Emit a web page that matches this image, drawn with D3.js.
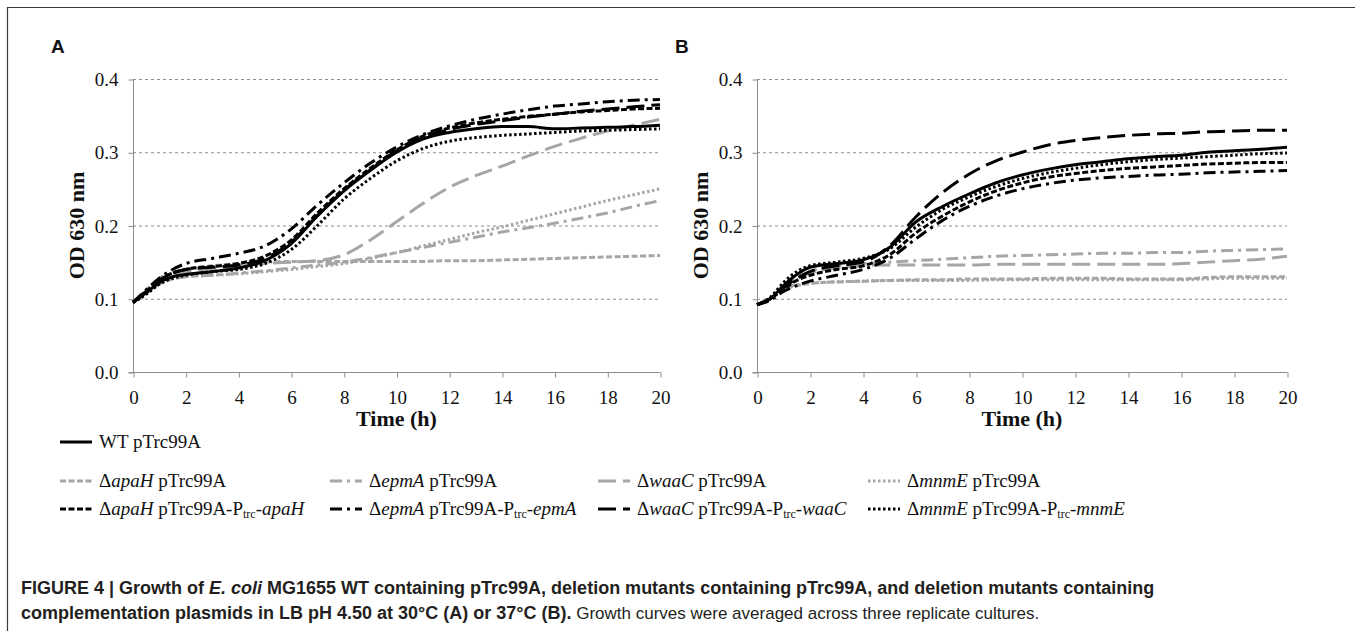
<!DOCTYPE html>
<html>
<head>
<meta charset="utf-8">
<script src="https://cdn.jsdelivr.net/npm/d3@7"></script>
<style>
  html, body { margin: 0; padding: 0; background: #fff; }
  svg { display: block; }
</style>
</head>
<body>
<svg id="fig" width="1355" height="631"></svg>
<script>
// Sampling times (h)
const hours = [0, 0.5, 1, 1.5, 2, 3, 4, 5, 6, 7, 8, 9, 10, 11, 12, 13, 14, 15, 16, 17, 18, 19, 20];

// Panel A: 30 °C
const a_WT        = [0.095,0.108,0.122,0.130,0.133,0.137,0.142,0.152,0.175,0.213,0.247,0.275,0.300,0.318,0.327,0.332,0.335,0.335,0.332,0.333,0.334,0.335,0.337];
const a_apaH      = [0.095,0.112,0.128,0.135,0.140,0.145,0.148,0.150,0.151,0.151,0.151,0.151,0.151,0.151,0.152,0.152,0.153,0.154,0.155,0.156,0.157,0.158,0.159];
const a_epmA      = [0.095,0.108,0.120,0.127,0.130,0.132,0.135,0.138,0.142,0.146,0.150,0.156,0.163,0.170,0.177,0.184,0.191,0.197,0.203,0.210,0.217,0.226,0.234];
const a_waaC      = [0.095,0.110,0.125,0.133,0.137,0.141,0.145,0.148,0.150,0.152,0.160,0.180,0.205,0.230,0.252,0.268,0.281,0.295,0.308,0.319,0.329,0.337,0.345];
const a_mnmE      = [0.095,0.108,0.120,0.127,0.130,0.132,0.134,0.137,0.140,0.144,0.148,0.155,0.163,0.172,0.181,0.190,0.198,0.207,0.216,0.225,0.234,0.242,0.250];
const a_apaH_comp = [0.095,0.110,0.125,0.135,0.140,0.144,0.148,0.158,0.180,0.217,0.250,0.278,0.303,0.322,0.333,0.340,0.345,0.349,0.352,0.355,0.357,0.359,0.360];
const a_epmA_comp = [0.095,0.112,0.128,0.140,0.148,0.155,0.162,0.172,0.195,0.228,0.258,0.285,0.307,0.324,0.336,0.345,0.352,0.358,0.363,0.366,0.369,0.371,0.372];
const a_waaC_comp = [0.095,0.110,0.125,0.135,0.140,0.143,0.146,0.155,0.177,0.214,0.248,0.276,0.302,0.320,0.331,0.338,0.343,0.348,0.352,0.356,0.359,0.362,0.365];
const a_mnmE_comp = [0.095,0.106,0.120,0.128,0.132,0.137,0.140,0.148,0.167,0.200,0.236,0.264,0.288,0.305,0.315,0.320,0.323,0.325,0.327,0.329,0.330,0.331,0.332];

// Panel B: 37 °C
const b_WT        = [0.092,0.100,0.118,0.133,0.143,0.148,0.153,0.170,0.205,0.226,0.243,0.258,0.269,0.277,0.283,0.287,0.291,0.294,0.296,0.300,0.302,0.304,0.307];
const b_apaH      = [0.092,0.100,0.112,0.118,0.121,0.123,0.124,0.125,0.126,0.126,0.127,0.127,0.127,0.128,0.128,0.128,0.127,0.127,0.127,0.129,0.130,0.130,0.130];
const b_epmA      = [0.092,0.100,0.115,0.128,0.137,0.145,0.148,0.150,0.152,0.154,0.156,0.158,0.159,0.160,0.161,0.162,0.162,0.163,0.163,0.165,0.166,0.167,0.168];
const b_waaC      = [0.092,0.100,0.115,0.127,0.135,0.142,0.145,0.146,0.146,0.146,0.146,0.147,0.147,0.147,0.147,0.147,0.147,0.147,0.148,0.150,0.152,0.154,0.158];
const b_mnmE      = [0.092,0.100,0.114,0.119,0.121,0.123,0.124,0.125,0.125,0.125,0.125,0.126,0.126,0.126,0.126,0.126,0.126,0.126,0.126,0.127,0.128,0.128,0.128];
const b_apaH_comp = [0.092,0.100,0.113,0.125,0.132,0.140,0.145,0.160,0.190,0.213,0.232,0.247,0.258,0.266,0.271,0.275,0.278,0.280,0.282,0.284,0.285,0.286,0.286];
const b_epmA_comp = [0.092,0.098,0.110,0.118,0.124,0.132,0.140,0.155,0.182,0.207,0.226,0.240,0.250,0.257,0.262,0.265,0.267,0.269,0.270,0.272,0.273,0.274,0.275];
const b_waaC_comp = [0.092,0.100,0.115,0.128,0.137,0.145,0.150,0.172,0.212,0.245,0.270,0.288,0.300,0.310,0.316,0.320,0.323,0.325,0.326,0.328,0.329,0.330,0.330];
const b_mnmE_comp = [0.092,0.102,0.122,0.137,0.145,0.150,0.155,0.168,0.198,0.222,0.239,0.253,0.264,0.272,0.278,0.283,0.287,0.290,0.292,0.294,0.296,0.298,0.299];

// Axis ticks
const xTicks = [0, 2, 4, 6, 8, 10, 12, 14, 16, 18, 20];
const yTicks = [0.0, 0.1, 0.2, 0.3, 0.4];

// Strains: key, gene, complemented?, tone, dash style
const strainKeys   = ["WT", "apaH", "epmA", "waaC", "mnmE", "apaH_comp", "epmA_comp", "waaC_comp", "mnmE_comp"];
const strainGenes  = [null, "apaH", "epmA", "waaC", "mnmE", "apaH", "epmA", "waaC", "mnmE"];
const strainComp   = [false, false, false, false, false, true, true, true, true];
const strainTone   = ["black", "grey", "grey", "grey", "grey", "black", "black", "black", "black"];
const strainStyle  = ["solid", "sysdash", "dashdot", "longdash", "dot", "sysdash", "dashdot", "longdash", "dot"];

const panelA = [a_WT, a_apaH, a_epmA, a_waaC, a_mnmE, a_apaH_comp, a_epmA_comp, a_waaC_comp, a_mnmE_comp];
const panelB = [b_WT, b_apaH, b_epmA, b_waaC, b_mnmE, b_apaH_comp, b_epmA_comp, b_waaC_comp, b_mnmE_comp];

const toneColor = { black: "#000000", grey: "#a6a6a6" };
const dashArray = { solid: null, sysdash: "6,2.5", dashdot: "12,5,3,5", longdash: "18,7", dot: "2.5,2.5" };
const lineWidth = 3;

const svg = d3.select("#fig");
const serif = "'Liberation Serif', 'Times New Roman', serif";
const sans = "'Liberation Sans', Arial, Helvetica, sans-serif";

// Figure frame (top and left rule)
svg.append("path")
  .attr("d", "M7.5,631 V7.5 H1355")
  .attr("fill", "none").attr("stroke", "#3a3a3a").attr("stroke-width", 1.2);

function drawPanel(letter, left, right, series) {
  const top = 79, bottom = 372;
  const x = d3.scaleLinear().domain([0, 20]).range([left, right]);
  const y = d3.scaleLinear().domain([0, 0.4]).range([bottom, top]);
  const g = svg.append("g");

  // panel letter
  g.append("text").attr("x", left - 82).attr("y", 53)
    .attr("font-family", sans).attr("font-weight", "bold").attr("font-size", 19)
    .attr("fill", "#111").text(letter);

  // horizontal dotted gridlines
  g.append("g").selectAll("line").data(yTicks.filter(t => t > 0)).join("line")
    .attr("x1", left).attr("x2", right)
    .attr("y1", d => y(d) + 0.5).attr("y2", d => y(d) + 0.5)
    .attr("stroke", "#8c8c8c").attr("stroke-width", 1).attr("stroke-dasharray", "3,3");

  // y axis
  const yAxis = d3.axisLeft(y).tickValues(yTicks).tickFormat(d3.format(".1f")).tickSize(5).tickPadding(10);
  const ya = g.append("g").attr("transform", `translate(${left + 0.5},0.5)`).call(yAxis);
  ya.select(".domain").attr("stroke", "#8c8c8c").attr("d", `M0,${top}V${bottom}`);
  ya.selectAll(".tick line").attr("stroke", "#8c8c8c");
  ya.selectAll(".tick text").attr("font-family", serif).attr("font-size", 19).attr("fill", "#111");

  // x axis
  const xAxis = d3.axisBottom(x).tickValues(xTicks).tickSize(5).tickPadding(13);
  const xa = g.append("g").attr("transform", `translate(0.5,${bottom + 0.5})`).call(xAxis);
  xa.select(".domain").attr("stroke", "#8c8c8c").attr("d", `M${left - 5},0H${right}`);
  xa.selectAll(".tick line").attr("stroke", "#8c8c8c");
  xa.selectAll(".tick text").attr("font-family", serif).attr("font-size", 19).attr("fill", "#111");

  // axis titles
  g.append("text").attr("x", (left + right) / 2).attr("y", 426)
    .attr("text-anchor", "middle").attr("font-family", serif).attr("font-weight", "bold")
    .attr("font-size", 22).attr("fill", "#111").text("Time (h)");
  g.append("text")
    .attr("transform", `translate(${left - 49},${(top + bottom) / 2}) rotate(-90)`)
    .attr("text-anchor", "middle").attr("font-family", serif).attr("font-weight", "bold")
    .attr("font-size", 22).attr("fill", "#111").text("OD 630 nm");

  // growth curves: grey mutants first, then the black strains on top
  const line = d3.line().x((d, i) => x(hours[i])).y(d => y(d)).curve(d3.curveMonotoneX);
  const order = [1, 2, 3, 4, 0, 5, 6, 7, 8];
  g.append("g").selectAll("path").data(order).join("path")
    .attr("d", k => line(series[k]))
    .attr("fill", "none")
    .attr("stroke", k => toneColor[strainTone[k]])
    .attr("stroke-width", lineWidth)
    .attr("stroke-dasharray", k => dashArray[strainStyle[k]]);
}

drawPanel("A", 133, 660, panelA);
drawPanel("B", 757, 1287, panelB);

// Legend
const legRows = [448, 487, 515];
const legCols = [60, 330, 598, 868];
const legLen = 32;

function legendLabel(sel, k) {
  const t = sel.append("text").attr("font-family", serif).attr("font-size", 19).attr("fill", "#111");
  if (strainKeys[k] === "WT") { t.append("tspan").text("WT pTrc99A"); return; }
  t.append("tspan").text("\u0394");
  t.append("tspan").attr("font-style", "italic").text(strainGenes[k]);
  if (!strainComp[k]) { t.append("tspan").text(" pTrc99A"); return; }
  t.append("tspan").text(" pTrc99A-P");
  t.append("tspan").attr("font-size", 12).attr("dy", 3).text("trc");
  t.append("tspan").attr("dy", -3).text("-");
  t.append("tspan").attr("font-style", "italic").text(strainGenes[k]);
}

const legend = svg.append("g");
strainKeys.forEach((key, k) => {
  const row = k === 0 ? 0 : (strainComp[k] ? 2 : 1);
  const col = k === 0 ? 0 : ((k - 1) % 4);
  const x0 = legCols[col], yy = legRows[row];
  const item = legend.append("g").attr("transform", `translate(${x0},${yy})`);
  item.append("line").attr("x1", 0).attr("x2", legLen).attr("y1", -6).attr("y2", -6)
    .attr("stroke", toneColor[strainTone[k]]).attr("stroke-width", lineWidth)
    .attr("stroke-dasharray", dashArray[strainStyle[k]]);
  const lab = item.append("g").attr("transform", `translate(${legLen + 7},0)`);
  legendLabel(lab, k);
});

// Caption
const cap = svg.append("g").attr("font-family", sans).attr("fill", "#231f20").attr("font-size", 18);
cap.append("text").attr("x", 21).attr("y", 594).attr("font-weight", "bold")
  .call(t => {
    t.append("tspan").text("FIGURE 4 | Growth of ");
    t.append("tspan").attr("font-style", "italic").text("E. coli");
    t.append("tspan").text(" MG1655 WT containing pTrc99A, deletion mutants containing pTrc99A, and deletion mutants containing");
  });
cap.append("text").attr("x", 21).attr("y", 619)
  .call(t => {
    t.append("tspan").attr("font-weight", "bold").text("complementation plasmids in LB pH 4.50 at 30\u00b0C (A) or 37\u00b0C (B).");
    t.append("tspan").attr("font-size", 17).text(" Growth curves were averaged across three replicate cultures.");
  });
</script>
</body>
</html>
